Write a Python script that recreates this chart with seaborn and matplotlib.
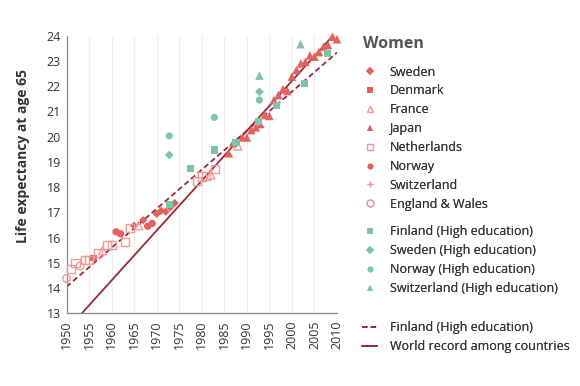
import matplotlib
matplotlib.use("Agg")
import matplotlib.pyplot as plt
from matplotlib.lines import Line2D
import pandas as pd
import seaborn as sns

# record-holding countries (women, life expectancy at age 65)
england_years = [1950, 1953]
england_vals = [14.38, 14.87]
netherlands_years = [1951, 1952, 1954, 1955, 1957, 1959, 1960, 1963, 1964, 1979, 1980, 1981, 1983]
netherlands_vals = [14.75, 15.0, 15.11, 15.11, 15.38, 15.72, 15.72, 15.84, 16.38, 18.24, 18.42, 18.44, 18.73]
denmark_years = [1956]
denmark_vals = [15.19]
france_years = [1958, 1966, 1982, 1988]
france_vals = [15.48, 16.47, 18.48, 19.63]
norway_years = [1961, 1962, 1968, 1969]
norway_vals = [16.23, 16.15, 16.45, 16.56]
sweden_years = [1965, 1967, 1970, 1971, 1972, 1973, 1974]
sweden_vals = [16.47, 16.69, 16.94, 17.06, 17.03, 17.2, 17.37]
switzerland_years = [1975, 1976, 1977, 1978, 1984, 1985]
switzerland_vals = [17.49, 17.52, 17.98, 17.92, 18.98, 19.01]
japan_years = [1986, 1987, 1989, 1990, 1991, 1992, 1993, 1994, 1995, 1996, 1997, 1998,
               1999, 2000, 2001, 2002, 2003, 2004, 2005, 2006, 2007, 2008, 2009, 2010]
japan_vals = [19.34, 19.75, 19.97, 19.97, 20.26, 20.37, 20.5, 20.86, 20.82, 21.45, 21.65, 21.88,
              21.81, 22.38, 22.64, 22.9, 22.97, 23.22, 23.17, 23.35, 23.56, 23.63, 23.96, 23.86]

# high education groups
fin_he_years = [1972.8, 1977.6, 1982.8, 1987.6, 1992.6, 1996.6, 2002.8, 2007.8]
fin_he_vals = [17.3, 18.75, 19.47, 19.77, 20.59, 21.25, 22.11, 23.3]
swe_he_years = [1972.8, 1992.8]
swe_he_vals = [19.27, 21.78]
nor_he_years = [1972.8, 1982.8, 1992.8]
nor_he_vals = [20.03, 20.76, 21.45]
sui_he_years = [1992.8, 2001.9]
sui_he_vals = [22.42, 23.66]

# trend lines
line_years = [1950, 2010]
fin_trend = [14.05, 23.33]
record_trend = [12.33, 24.18]

red = "#E3625F"
pink = "#EE9C99"
green = "#7DC4A9"
dark = "#9B2737"
dash = (0, (3, 1.8))

sns.set_style("white")
plt.rcParams["font.family"] = ["Open Sans", "DejaVu Sans"]

fig = plt.figure(figsize=(5.8, 3.86), dpi=100)
ax = fig.add_axes([0.1147, 0.1883, 0.4663, 0.7192])

sns.lineplot(x=line_years, y=fin_trend, ax=ax, color=dark, lw=1.3, linestyle=dash, zorder=2)
sns.lineplot(x=line_years, y=record_trend, ax=ax, color=dark, lw=1.3, zorder=2)

series = [
    ("Sweden", sweden_years, sweden_vals, "D", red, True, 18),
    ("Denmark", denmark_years, denmark_vals, "s", red, True, 24),
    ("France", france_years, france_vals, "^", pink, False, 34),
    ("Japan", japan_years, japan_vals, "^", red, True, 38),
    ("Netherlands", netherlands_years, netherlands_vals, "s", pink, False, 34),
    ("Norway", norway_years, norway_vals, "o", red, True, 28),
    ("Switzerland", switzerland_years, switzerland_vals, "+", pink, False, 40),
    ("England & Wales", england_years, england_vals, "o", pink, False, 30),
    ("Finland (High education)", fin_he_years, fin_he_vals, "s", green, True, 26),
    ("Sweden (High education)", swe_he_years, swe_he_vals, "D", green, True, 20),
    ("Norway (High education)", nor_he_years, nor_he_vals, "o", green, True, 26),
    ("Switzerland (High education)", sui_he_years, sui_he_vals, "^", green, True, 38),
]

handles = []
for name, xs, ys, mk, col, filled, size in series:
    df = pd.DataFrame({"year": xs, "value": ys})
    if filled:
        sns.scatterplot(data=df, x="year", y="value", ax=ax, marker=mk, color=col,
                        s=size, edgecolor="none", zorder=3, clip_on=False)
        h = Line2D([], [], ls="none", marker=mk, markersize=4.2, color=col, markeredgewidth=0)
    else:
        sns.scatterplot(data=df, x="year", y="value", ax=ax, marker=mk, s=size,
                        facecolors="none", edgecolor=col, color=col, linewidth=1.0,
                        zorder=3, clip_on=False)
        h = Line2D([], [], ls="none", marker=mk, markersize=5, markerfacecolor="none",
                   markeredgecolor=col, markeredgewidth=0.9)
    handles.append((h, name))

line_handles = [
    (Line2D([], [], color=dark, lw=1.3, ls=dash), "Finland (High education)"),
    (Line2D([], [], color=dark, lw=1.3), "World record among countries"),
]

ax.set_xlim(1950, 2010)
ax.set_ylim(13, 24)
ax.set_xticks(range(1950, 2011, 5))
ax.set_yticks(range(13, 25))
ax.tick_params(axis="x", labelrotation=90, length=3, width=0.8, color="#888888",
               labelsize=9, labelcolor="#333333", pad=2)
ax.tick_params(axis="y", length=0, labelsize=9, labelcolor="#333333", pad=4)
ax.grid(axis="x", color="#EEEEEE", lw=0.8)
ax.grid(axis="y", visible=False)
for side in ["top", "right"]:
    ax.spines[side].set_visible(False)
for side in ["left", "bottom"]:
    ax.spines[side].set_color("#888888")
    ax.spines[side].set_linewidth(0.9)
ax.set_xlabel("")
ax.set_ylabel("Life expectancy at age 65", fontsize=10, fontweight="bold", color="#333333")
ax.yaxis.set_label_coords(-0.135, 0.565)

fig.text(363 / 580, 1 - 44 / 386, "Women", fontsize=11.5, fontweight="bold",
         color="#555555", va="center", ha="left")

legend_kw = dict(loc="upper left", frameon=False, fontsize=9, labelspacing=0.47,
                 handlelength=1.2, handletextpad=1.0, borderaxespad=0, borderpad=0,
                 labelcolor="#333333")
groups = [(handles[:8], 65.5), (handles[8:], 225.5), (line_handles, 321.5)]
for group, top in groups:
    leg = fig.legend([h for h, _ in group], [n for _, n in group],
                     bbox_to_anchor=(362 / 580, 1 - top / 386), **legend_kw)
    fig.add_artist(leg)

fig.savefig("out.png", dpi=100)
